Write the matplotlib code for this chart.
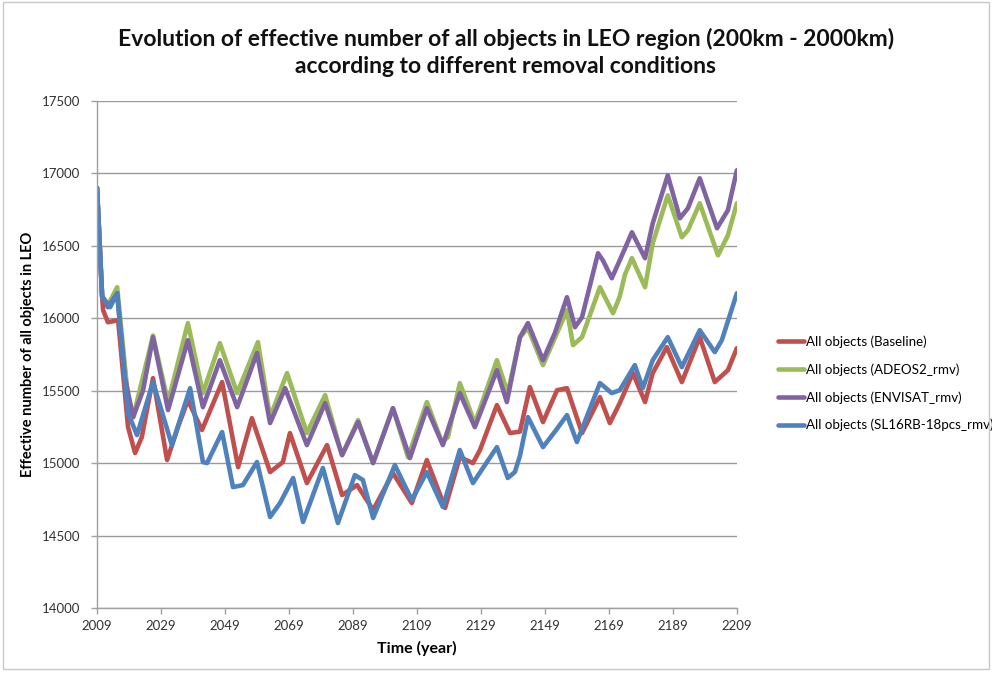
import matplotlib.pyplot as plt
from matplotlib.patches import Rectangle

plt.rcParams['font.family'] = ['Lato', 'DejaVu Sans']

# effective number of objects, read per series as (year, value)
baseline_years = [2009, 2010.6, 2010.9, 2012.4, 2015.6, 2018.7, 2020.9, 2023.0, 2026.5,
                  2030.9, 2034.3, 2037.4, 2041.8, 2048.1, 2053.1, 2057.4, 2063.1,
                  2067.1, 2069.3, 2074.6, 2080.9, 2085.6, 2090.3, 2095.3, 2101.5,
                  2107.4, 2112.1, 2117.8, 2122.4, 2126.5, 2128.7, 2134.0, 2138.1,
                  2141.2, 2144.3, 2148.4, 2152.8, 2155.9, 2160.6, 2166.2, 2169.3,
                  2172.4, 2176.5, 2180.3, 2182.7, 2187.1, 2191.8, 2197.4, 2202.1,
                  2206.2, 2209]
baseline = [16900, 16150, 16055, 15972, 15986, 15248, 15069, 15179, 15586,
            15021, 15248, 15434, 15228, 15559, 14972, 15310, 14938,
            15007, 15207, 14862, 15124, 14779, 14848, 14676, 14931,
            14724, 15021, 14690, 15041, 15000, 15090, 15400, 15207,
            15217, 15524, 15283, 15503, 15517, 15207, 15455, 15276,
            15414, 15621, 15421, 15621, 15800, 15559, 15869, 15559,
            15641, 15793]

adeos2_years = [2009, 2010.6, 2012.4, 2015.3, 2018.7, 2020.3, 2026.5, 2031.2, 2037.4,
                2042.1, 2047.4, 2052.8, 2059.3, 2063.1, 2068.4, 2074.6, 2080.3,
                2085.6, 2090.6, 2095.3, 2101.5, 2106.2, 2112.1, 2116.8, 2118.7,
                2122.4, 2127.1, 2134.0, 2137.4, 2141.2, 2143.7, 2148.4, 2155.9,
                2157.8, 2160.6, 2166.2, 2170.3, 2172.4, 2174.0, 2176.2, 2180.3,
                2182.7, 2187.4, 2191.8, 2193.7, 2197.4, 2203.1, 2206.2, 2209]
adeos2 = [16900, 16150, 16090, 16214, 15450, 15317, 15880, 15420, 15966,
          15483, 15828, 15483, 15835, 15317, 15621, 15207, 15469,
          15055, 15297, 15000, 15379, 15041, 15421, 15145, 15179,
          15552, 15276, 15710, 15483, 15869, 15931, 15676, 16055,
          15814, 15869, 16214, 16034, 16150, 16300, 16414, 16214,
          16517, 16848, 16559, 16607, 16793, 16434, 16572, 16793]

envisat_years = [2009, 2010.6, 2012.4, 2015.3, 2017.7, 2020.3, 2023.4, 2026.5, 2031.2,
                 2037.4, 2042.1, 2047.4, 2052.8, 2059.0, 2063.1, 2067.8, 2074.6,
                 2080.3, 2085.6, 2090.6, 2095.3, 2101.5, 2106.8, 2112.1, 2117.1,
                 2122.4, 2127.1, 2134.0, 2137.1, 2141.2, 2143.7, 2148.4, 2152.1,
                 2155.9, 2158.4, 2160.6, 2165.6, 2167.1, 2169.9, 2172.4, 2174.0,
                 2176.2, 2180.3, 2182.7, 2187.4, 2191.2, 2193.7, 2197.4, 2202.8,
                 2206.2, 2209]
envisat = [16900, 16150, 16076, 16172, 15593, 15317, 15503, 15869, 15366,
           15848, 15386, 15710, 15386, 15759, 15276, 15517, 15124,
           15414, 15055, 15283, 15000, 15379, 15034, 15379, 15124,
           15483, 15248, 15641, 15421, 15869, 15966, 15710, 15897,
           16145, 15938, 16007, 16448, 16400, 16276, 16400, 16480,
           16593, 16414, 16655, 16986, 16690, 16759, 16966, 16621,
           16745, 17021]

sl16rb_years = [2009, 2010.6, 2013.1, 2015.3, 2018.7, 2021.5, 2026.5, 2032.4, 2038.1,
                2042.1, 2043.4, 2048.1, 2051.5, 2054.6, 2059.0, 2063.1, 2066.2,
                2070.3, 2073.4, 2079.6, 2084.3, 2089.6, 2092.1, 2095.3, 2102.1,
                2107.4, 2112.1, 2117.1, 2122.4, 2126.5, 2134.0, 2137.4, 2139.6,
                2141.2, 2143.7, 2148.4, 2152.5, 2155.9, 2159.0, 2166.2, 2169.9,
                2172.4, 2177.1, 2179.6, 2182.7, 2187.4, 2191.8, 2197.4, 2202.1,
                2204.3, 2209]
sl16rb = [16900, 16150, 16076, 16172, 15345, 15193, 15559, 15124, 15517,
          15007, 15000, 15214, 14834, 14848, 15007, 14628, 14724,
          14897, 14593, 14966, 14586, 14917, 14883, 14621, 14986,
          14745, 14938, 14697, 15090, 14862, 15110, 14897, 14938,
          15050, 15317, 15110, 15228, 15331, 15145, 15552, 15483,
          15503, 15676, 15517, 15710, 15869, 15662, 15917, 15766,
          15848, 16172]

series = [
    ("All objects (Baseline)", baseline_years, baseline, "#C0504D"),
    ("All objects (ADEOS2_rmv)", adeos2_years, adeos2, "#9BBB59"),
    ("All objects (ENVISAT_rmv)", envisat_years, envisat, "#8064A2"),
    ("All objects (SL16RB-18pcs_rmv)", sl16rb_years, sl16rb, "#4F81BD"),
]

x_ticks = list(range(2009, 2210, 20))
y_ticks = list(range(14000, 17501, 500))

fig = plt.figure(figsize=(9.92, 6.77), dpi=100)
ax = fig.add_axes([0.0978, 0.102, 0.645, 0.749])

for label, xs, ys, color in series:
    ax.plot(xs, ys, color=color, lw=3.3, label=label,
            solid_joinstyle='round', solid_capstyle='round')

ax.set_xlim(2009, 2209)
ax.set_ylim(14000, 17500)
ax.set_xticks(x_ticks)
ax.set_yticks(y_ticks)
ax.yaxis.grid(True, color='#9a9a9a', lw=1.0)
ax.set_axisbelow(True)

for side in ['top', 'right']:
    ax.spines[side].set_visible(False)
for side in ['left', 'bottom']:
    ax.spines[side].set_color('#a0a0a0')
    ax.spines[side].set_linewidth(1.0)
ax.tick_params(axis='both', colors='#a0a0a0', labelcolor='#333333',
               labelsize=9.5, length=4, width=1.0)
ax.tick_params(axis='y', pad=8)
ax.tick_params(axis='x', pad=5)

ax.set_xlabel("Time (year)", fontsize=11.5, fontweight='bold', labelpad=6)
ax.set_ylabel("Effective number of all objects in LEO", fontsize=10.5,
              fontweight='bold', labelpad=5)

fig.text(0.51, 0.922,
         "Evolution of effective number of all objects in LEO region (200km - 2000km)\n"
         "according to different removal conditions",
         ha='center', va='center', fontsize=16.5, fontweight='bold',
         linespacing=1.35, color='#111111')

leg = ax.legend(loc='center left', bbox_to_anchor=(1.045, 0.443), frameon=False,
                fontsize=9.6, handlelength=2.0, handletextpad=0.1,
                labelspacing=1.15)

fig.patches.append(Rectangle((0.003, 0.012), 0.994, 0.985, transform=fig.transFigure,
                             fill=False, edgecolor='#c8c8c8', lw=1.0))

fig.savefig("out.png", dpi=100)
